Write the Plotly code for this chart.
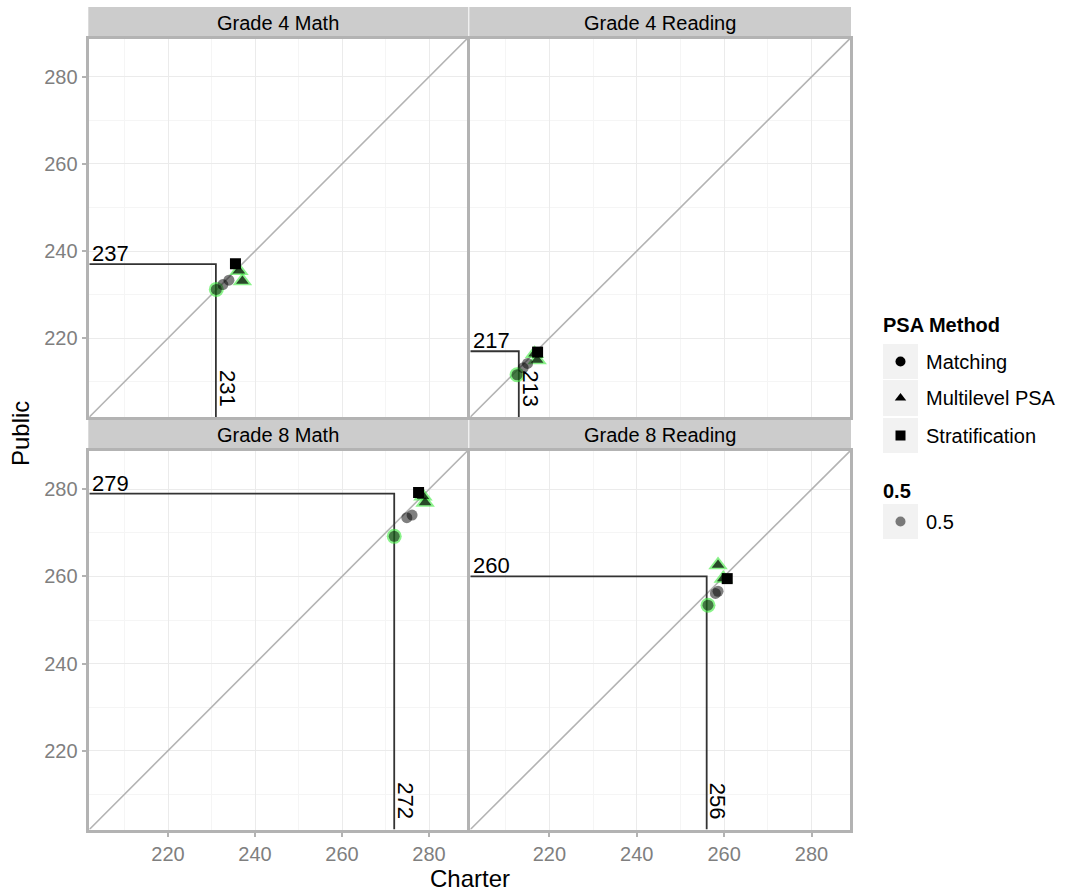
import plotly.graph_objects as go

W, H = 1065, 893

# ---------------- data ----------------
panel_titles = ["Grade 4 Math", "Grade 4 Reading", "Grade 8 Math", "Grade 8 Reading"]
ref_charter = [231, 213, 272, 256]
ref_public = [237, 217, 279, 260]

# Matching estimates per panel (charter, public); 1 = highlighted (green)
match_charter = [[231.1, 232.6, 234.0], [212.6, 214.0, 215.0], [272.0, 274.9, 276.1], [256.3, 258.0, 258.6]]
match_public = [[231.2, 232.3, 233.3], [211.6, 213.2, 214.2], [269.2, 273.5, 274.1], [253.4, 256.1, 256.6]]
match_hl = [[1, 0, 0], [1, 0, 0], [1, 0, 0], [1, 0, 0]]

# Multilevel PSA estimates per panel
ml_charter = [[236.3, 237.1], [216.6, 217.2], [278.6, 279.1], [258.6, 259.8]]
ml_public = [[235.5, 233.1], [216.4, 215.0], [278.4, 277.0], [262.6, 259.5]]

# Stratification estimate per panel
strat_charter = [235.5, 217.3, 277.6, 260.7]
strat_public = [237.1, 216.8, 279.3, 259.5]

tick_vals = [220, 240, 260, 280]
tick_text = ["220", "240", "260", "280"]
minor_vals = [210, 230, 250, 270]
axis_range = [201.9, 288.8]

legend_methods = ["Matching", "Multilevel PSA", "Stratification"]
legend_symbols = ["circle", "triangle-up", "square"]
alpha_label = "0.5"

# ---------------- layout helpers ----------------
FONT = "Liberation Sans, Arial, Helvetica, sans-serif"
GRAY_TXT = "#7f7f7f"
AXIS_GRAY = "#b3b3b3"


def px_x(p):
    return p / W


def px_y(p):
    return 1 - p / H


col_px = [(89.3, 467.3), (470.3, 850.0)]
row_px = [(38.5, 417.0), (451.0, 829.5)]
strip_px = [(7.0, 38.5), (418.5, 451.0)]

fig = go.Figure()

GREEN_UNDER = "rgba(60,235,60,0.6)"
GRAY_PT = "rgba(0,0,0,0.5)"

for i in range(4):
    r, c = divmod(i, 2)
    sfx = "" if i == 0 else str(i + 1)
    xa, ya = "x" + sfx, "y" + sfx

    # diagonal identity line
    fig.add_trace(go.Scatter(x=axis_range, y=axis_range, mode="lines",
                             line=dict(color=AXIS_GRAY, width=1.6),
                             xaxis=xa, yaxis=ya, showlegend=False, hoverinfo="skip"))
    # reference lines
    fig.add_trace(go.Scatter(x=[axis_range[0], ref_charter[i], ref_charter[i]],
                             y=[ref_public[i], ref_public[i], axis_range[0]],
                             mode="lines", line=dict(color="#333333", width=1.8),
                             xaxis=xa, yaxis=ya, showlegend=False, hoverinfo="skip"))

    # green underlays for highlighted points
    hx = [x for x, h in zip(match_charter[i], match_hl[i]) if h]
    hy = [y for y, h in zip(match_public[i], match_hl[i]) if h]
    fig.add_trace(go.Scatter(x=hx, y=hy, mode="markers",
                             marker=dict(symbol="circle", size=15, color=GREEN_UNDER, line=dict(width=0)),
                             xaxis=xa, yaxis=ya, showlegend=False, hoverinfo="skip"))
    fig.add_trace(go.Scatter(x=ml_charter[i], y=ml_public[i], mode="markers",
                             marker=dict(symbol="triangle-up", size=17, color=GREEN_UNDER, line=dict(width=0)),
                             xaxis=xa, yaxis=ya, showlegend=False, hoverinfo="skip"))
    # matching points
    fig.add_trace(go.Scatter(x=match_charter[i], y=match_public[i], mode="markers",
                             marker=dict(symbol="circle", size=11, color=GRAY_PT, line=dict(width=0)),
                             xaxis=xa, yaxis=ya, showlegend=False, hoverinfo="skip"))
    # multilevel points
    fig.add_trace(go.Scatter(x=ml_charter[i], y=ml_public[i], mode="markers",
                             marker=dict(symbol="triangle-up", size=11, color="rgba(0,0,0,0.7)", line=dict(width=0)),
                             xaxis=xa, yaxis=ya, showlegend=False, hoverinfo="skip"))
    # stratification
    fig.add_trace(go.Scatter(x=[strat_charter[i]], y=[strat_public[i]], mode="markers",
                             marker=dict(symbol="square", size=11, color="black", line=dict(width=0)),
                             xaxis=xa, yaxis=ya, showlegend=False, hoverinfo="skip"))

    x0, x1 = col_px[c]
    y0, y1 = row_px[r]
    bottom = r == 1
    left = c == 0
    common = dict(range=axis_range, showgrid=True, gridcolor="#ebebeb", gridwidth=1.2,
                  zeroline=False, showline=True, linecolor=AXIS_GRAY, linewidth=2.5, mirror=True,
                  tickvals=tick_vals, ticktext=tick_text,
                  tickfont=dict(family=FONT, size=20, color=GRAY_TXT),
                  minor=dict(tickvals=minor_vals, showgrid=True, gridcolor="#f5f5f5", gridwidth=1, ticks=""),
                  fixedrange=True)
    fig.update_layout({
        "xaxis" + sfx: dict(common, domain=[px_x(x0), px_x(x1)], anchor=ya,
                            showticklabels=bottom, ticks="outside" if bottom else "",
                            ticklen=5, tickwidth=2, tickcolor=AXIS_GRAY),
        "yaxis" + sfx: dict(common, domain=[px_y(y1), px_y(y0)], anchor=xa,
                            showticklabels=left, ticks="outside" if left else "",
                            ticklen=5, tickwidth=2, tickcolor=AXIS_GRAY),
    })

    # strip
    s0, s1 = strip_px[r]
    fig.add_shape(type="rect", xref="paper", yref="paper",
                  x0=px_x(x0 - 1), x1=px_x(x1 + 1), y0=px_y(s1), y1=px_y(s0),
                  fillcolor="#cccccc", line=dict(width=0), layer="below")
    fig.add_annotation(xref="paper", yref="paper", x=px_x((x0 + x1) / 2), y=px_y((s0 + s1) / 2),
                       text=panel_titles[i], showarrow=False, xanchor="center", yanchor="middle",
                       font=dict(family=FONT, size=20, color="black"))

    # reference labels
    fig.add_annotation(xref=xa, yref=ya, x=axis_range[0], y=ref_public[i],
                       text=str(ref_public[i]), showarrow=False, xanchor="left", yanchor="bottom",
                       xshift=1, yshift=-4, font=dict(family=FONT, size=22, color="black"))
    fig.add_annotation(xref=xa, yref=ya, x=ref_charter[i], y=axis_range[0],
                       text=str(ref_charter[i]), showarrow=False, textangle=90,
                       xanchor="left", yanchor="bottom", xshift=-3, yshift=8,
                       font=dict(family=FONT, size=22, color="black"))

# axis titles
fig.add_annotation(xref="paper", yref="paper", x=px_x((89.3 + 850) / 2), y=px_y(878),
                   text="Charter", showarrow=False, xanchor="center", yanchor="middle",
                   font=dict(family=FONT, size=24, color="black"))
fig.add_annotation(xref="paper", yref="paper", x=px_x(20), y=px_y(434),
                   text="Public", showarrow=False, textangle=-90, xanchor="center", yanchor="middle",
                   font=dict(family=FONT, size=24, color="black"))

# ---------------- manual legend on a hidden pixel axis ----------------
fig.update_layout(
    xaxis5=dict(domain=[px_x(860), 1.0], range=[860, W], visible=False, fixedrange=True, anchor="y5"),
    yaxis5=dict(domain=[0, 1], range=[H, 0], visible=False, fixedrange=True, anchor="x5"),
)
key_x0, key_x1, key_cx, txt_x = 883, 918, 900.5, 924
key_rows = [(344, 379), (380, 416), (418, 453)]
fig.add_annotation(xref="x5", yref="y5", x=881, y=325, text="<b>PSA Method</b>", showarrow=False,
                   xanchor="left", yanchor="middle", font=dict(family=FONT, size=20, color="black"))
for (k0, k1), lab, sym in zip(key_rows, legend_methods, legend_symbols):
    fig.add_shape(type="rect", xref="x5", yref="y5", x0=key_x0, x1=key_x1, y0=k0, y1=k1,
                  fillcolor="#f2f2f2", line=dict(width=0), layer="below")
    fig.add_trace(go.Scatter(x=[key_cx], y=[(k0 + k1) / 2], mode="markers",
                             marker=dict(symbol=sym, size=10, color="black", line=dict(width=0)),
                             xaxis="x5", yaxis="y5", showlegend=False, hoverinfo="skip"))
    fig.add_annotation(xref="x5", yref="y5", x=txt_x, y=(k0 + k1) / 2, text=lab, showarrow=False,
                       xanchor="left", yanchor="middle", font=dict(family=FONT, size=20, color="black"))

fig.add_annotation(xref="x5", yref="y5", x=881, y=491, text="<b>" + alpha_label + "</b>", showarrow=False,
                   xanchor="left", yanchor="middle", font=dict(family=FONT, size=20, color="black"))
fig.add_shape(type="rect", xref="x5", yref="y5", x0=key_x0, x1=key_x1, y0=504, y1=539,
              fillcolor="#f2f2f2", line=dict(width=0), layer="below")
fig.add_trace(go.Scatter(x=[key_cx], y=[521.5], mode="markers",
                         marker=dict(symbol="circle", size=10, color=GRAY_PT, line=dict(width=0)),
                         xaxis="x5", yaxis="y5", showlegend=False, hoverinfo="skip"))
fig.add_annotation(xref="x5", yref="y5", x=txt_x, y=521.5, text=alpha_label, showarrow=False,
                   xanchor="left", yanchor="middle", font=dict(family=FONT, size=20, color="black"))

fig.update_layout(width=W, height=H, autosize=False, margin=dict(l=0, r=0, t=0, b=0),
                  paper_bgcolor="white", plot_bgcolor="white", showlegend=False,
                  font=dict(family=FONT))

fig.write_html("out.html")
